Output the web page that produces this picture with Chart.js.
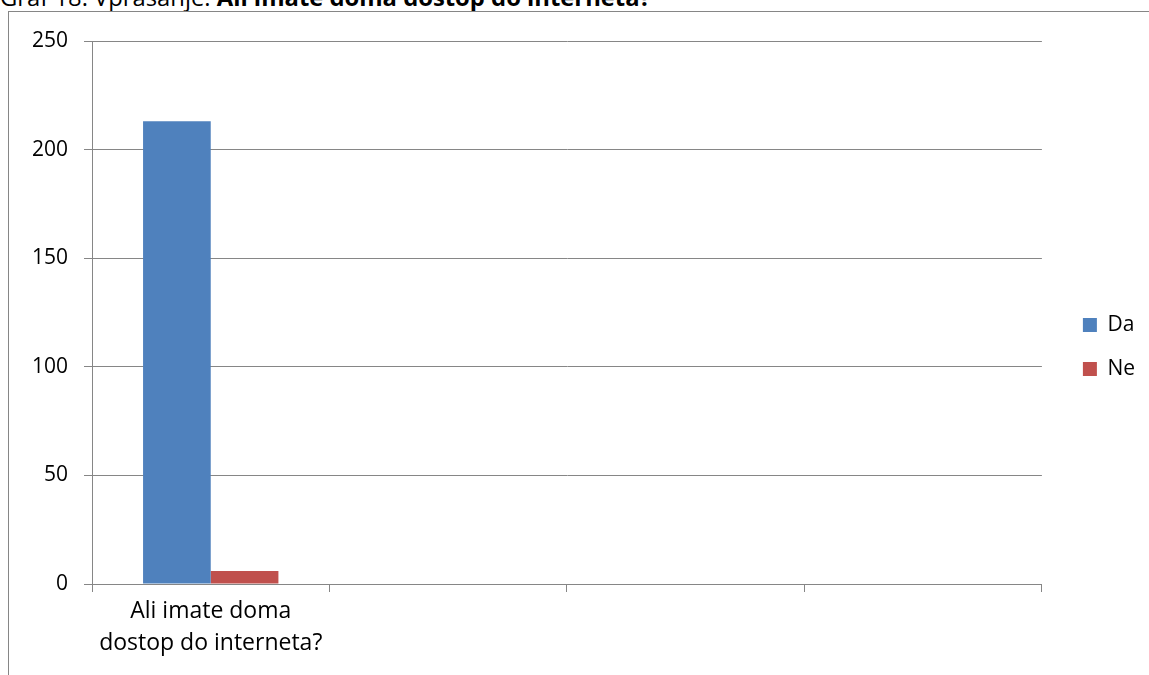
<!DOCTYPE html>
<html>
<head>
<meta charset="utf-8">
<script src="https://cdn.jsdelivr.net/npm/chart.js@4"></script>
<style>
  body { margin: 0; background: #fff; width: 1149px; height: 675px; overflow: hidden; position: relative; font-family: "Open Sans", sans-serif; }
  #title { position: absolute; left: 0px; top: -15px; font-size: 23.8px; line-height: 24px; color: #000; white-space: nowrap; }
  #frame { position: absolute; left: 8px; top: 11px; width: 1200px; height: 700px; border-left: 1px solid #868686; border-top: 1px solid #868686; }
  #wrap { position: absolute; left: 0; top: 0; width: 1149px; height: 675px; }
</style>
</head>
<body>
<div id="title">Graf 18: Vprašanje: <b>Ali imate doma dostop do interneta?</b></div>
<div id="frame"></div>
<div id="wrap"><canvas id="chart" width="1149" height="675"></canvas></div>
<script>
const categories = [['Ali imate doma', 'dostop do interneta?'], '', '', ''];
const daValues = [213, null, null, null];
const neValues = [6, null, null, null];
const yTicks = [0, 50, 100, 150, 200, 250];

const gridColor = '#868686';
const fontFamily = '"Open Sans"';

// push the legend a bit right and up from where chart.js puts it
const legendShift = {
  id: 'legendShift',
  afterLayout(chart) {
    const l = chart.legend;
    l.left += 18;
    l.right += 18;
    l.top -= 11;
    l.bottom -= 11;
  }
};

new Chart(document.getElementById('chart'), {
  type: 'bar',
  data: {
    labels: categories,
    datasets: [
      { label: 'Da', data: daValues, backgroundColor: '#4f81bd' },
      { label: 'Ne', data: neValues, backgroundColor: '#c0504d' }
    ]
  },
  options: {
    responsive: false,
    animation: false,
    layout: { padding: { left: 0, right: 22, top: 41, bottom: 0 } },
    datasets: { bar: { categoryPercentage: 0.57, barPercentage: 1 } },
    plugins: {
      tooltip: { enabled: false },
      legend: {
        position: 'right',
        labels: { boxWidth: 14, boxHeight: 14, padding: 23, color: '#000', font: { family: fontFamily, size: 21 } }
      }
    },
    scales: {
      x: {
        grid: { display: true, drawOnChartArea: false, color: gridColor, tickLength: 8, offset: true },
        border: { display: true, color: gridColor },
        ticks: { color: '#000', font: { family: fontFamily, size: 23, lineHeight: 1.38 }, maxRotation: 0, padding: 4 },
        afterFit: s => { s.height = 91; }
      },
      y: {
        min: 0, max: 250,
        afterBuildTicks: s => { s.ticks = yTicks.map(v => ({ value: v })); },
        grid: { color: gridColor, tickLength: 8 },
        border: { display: true, color: gridColor },
        ticks: { color: '#000', font: { family: fontFamily, size: 21 }, padding: 16 },
        afterFit: s => { s.width = 92; }
      }
    }
  },
  plugins: [legendShift]
});
</script>
</body>
</html>
